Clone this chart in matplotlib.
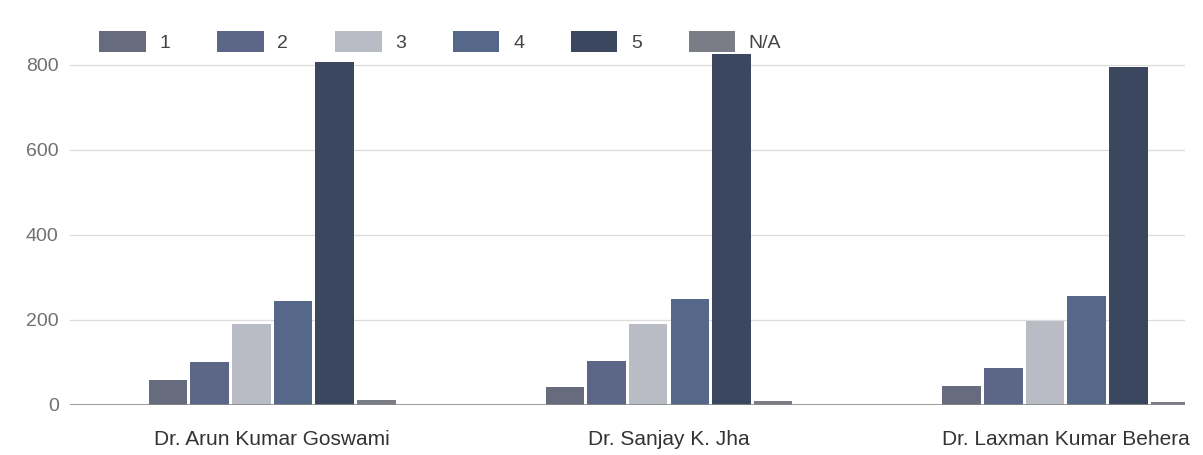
import numpy as np
import matplotlib.pyplot as plt

plt.rcParams['font.family'] = ['Liberation Sans', 'DejaVu Sans']

doctors = ['Dr. Arun Kumar Goswami', 'Dr. Sanjay K. Jha', 'Dr. Laxman Kumar Behera']
ratings = ['1', '2', '3', '4', '5', 'N/A']
r1 = [58, 42, 45]
r2 = [101, 103, 88]
r3 = [191, 190, 198]
r4 = [244, 248, 256]
r5 = [805, 825, 795]
rna = [12, 10, 8]
series = [r1, r2, r3, r4, r5, rna]

colors = ['#666c7e', '#5c6686', '#b9bcc4', '#56688a', '#3a475e', '#7a7c86']

fig = plt.figure(figsize=(12.03, 4.55), dpi=100)
ax = fig.add_axes([0.058, 0.11, 0.927, 0.795])

x = np.arange(len(doctors))
w = 0.097
step = 0.105
for i, (vals, c) in enumerate(zip(series, colors)):
    ax.bar(x + (i - 2.5) * step, vals, width=w, color=c, label=ratings[i], zorder=3)

ax.set_xlim(-0.51, 2.3)
ax.set_ylim(0, 850)
ax.set_yticks([0, 200, 400, 600, 800])
ax.yaxis.grid(True, color='#dcdcdc', linewidth=0.9, zorder=0)
ax.axhline(0, color='#8a8a8a', linewidth=1.2, zorder=4)
for s in ax.spines.values():
    s.set_visible(False)
ax.tick_params(axis='both', length=0)
ax.tick_params(axis='y', labelsize=14, labelcolor='#707070', pad=8)
ax.tick_params(axis='x', labelsize=15, labelcolor='#333333', pad=18)
ax.set_xticks(x)
ax.set_xticklabels(doctors)

fig.legend(loc='upper left', bbox_to_anchor=(0.068, 0.97), ncol=6, frameon=False,
           fontsize=14, handlelength=2.4, handleheight=1.3, columnspacing=2.4,
           handletextpad=0.7, labelcolor='#444444')

fig.savefig('out.png', dpi=100)
